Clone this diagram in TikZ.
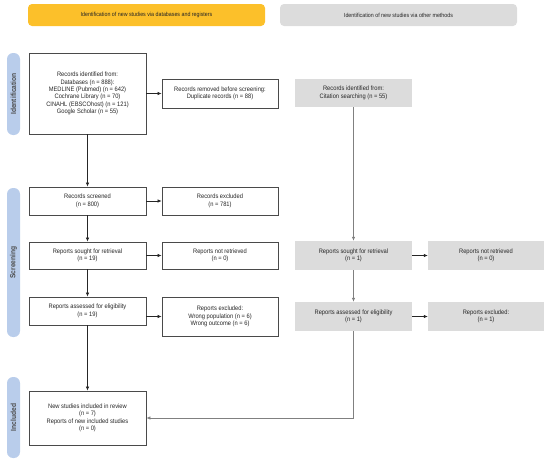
\documentclass[tikz,border=0pt]{standalone}
\usepackage{fontspec}
\setmainfont{Liberation Sans}[FakeStretch=0.9]
\usetikzlibrary{arrows.meta}
\definecolor{hdrY}{HTML}{FCC02A}
\definecolor{hdrG}{HTML}{DCDCDC}
\definecolor{pill}{HTML}{B9CDEB}
\definecolor{boxG}{HTML}{DCDCDC}
\definecolor{edge}{HTML}{4A4A4A}
\definecolor{txt}{HTML}{262626}
\tikzset{
  lbox/.style={draw=edge, line width=0.75pt, fill=white, align=center, inner sep=1pt,
    font=\fontsize{6.4}{7.4}\selectfont, text=txt},
  gbox/.style={fill=boxG, draw=none, align=center, inner sep=1pt,
    font=\fontsize{6.4}{7.4}\selectfont, text=txt},
  hdr/.style={rounded corners=4pt, draw=none, align=center,
    font=\fontsize{5.9}{7}\selectfont, text=txt},
  pillbox/.style={fill=pill, draw=none, rounded corners=6pt, minimum width=13pt},
  pilltext/.style={rotate=90, font=\bfseries\fontsize{7.4}{8}\selectfont, text=black!70},
  arr/.style={-{Latex[length=4pt,width=3.5pt]}, line width=0.6pt, draw=black!85},
  garr/.style={-{Latex[length=4pt,width=3.5pt]}, line width=0.7pt, draw=black!50},
}
\begin{document}
\begin{tikzpicture}[x=1pt,y=-1pt]
\useasboundingbox (0,0) rectangle (550,463);
% headers
\node[hdr, fill=hdrY, minimum width=237pt, minimum height=22pt] (h1) at (146.5,15) {Identification of new studies via databases and registers};
\node[hdr, fill=hdrG, minimum width=237pt, minimum height=22pt] (h2) at (398.5,15) {Identification of new studies via other methods};
% side pills
\node[pillbox, minimum height=82pt] (p1) at (13.5,94) {};
\node[pilltext] (p1t) at (p1) {Identification};
\node[pillbox, minimum height=149pt] (p2) at (13.5,262.5) {};
\node[pilltext] (p2t) at (p2) {Screening};
\node[pillbox, minimum height=81pt] (p3) at (13.5,417.5) {};
\node[pilltext] (p3t) at (p3) {Included};
% left column
\node[lbox, minimum width=117pt, minimum height=81pt] (id) at (87.5,93.5)
  {Records identified from:\\Databases (n = 888):\\MEDLINE (Pubmed) (n = 642)\\Cochrane Library (n = 70)\\CINAHL (EBSCOhost) (n = 121)\\Google Scholar (n = 55)};
\node[lbox, minimum width=116pt, minimum height=29pt] (rem) at (220,93.5)
  {Records removed before screening:\\Duplicate records (n = 88)};
\node[lbox, minimum width=117pt, minimum height=28pt] (scr) at (87.5,201)
  {Records screened\\(n = 800)};
\node[lbox, minimum width=116pt, minimum height=28pt] (exc) at (220,201)
  {Records excluded\\(n = 781)};
\node[lbox, minimum width=117pt, minimum height=27pt] (sou) at (87.5,255.5)
  {Reports sought for retrieval\\(n = 19)};
\node[lbox, minimum width=116pt, minimum height=27pt] (nre) at (220,255.5)
  {Reports not retrieved\\(n = 0)};
\node[lbox, minimum width=117pt, minimum height=28pt] (ass) at (87.5,311)
  {Reports assessed for eligibility\\(n = 19)};
\node[lbox, minimum width=116pt, minimum height=39pt] (rex) at (220,316.5)
  {Reports excluded:\\Wrong population (n = 6)\\Wrong outcome (n = 6)};
\node[lbox, minimum width=117pt, minimum height=54pt] (inc) at (87.5,418)
  {New studies included in review\\(n = 7)\\Reports of new included studies\\(n = 0)};
% right column
\node[gbox, minimum width=117pt, minimum height=28pt] (cit) at (353.5,93)
  {Records identified from:\\Citation searching (n = 55)};
\node[gbox, minimum width=117pt, minimum height=29pt] (rsou) at (353.5,255.5)
  {Reports sought for retrieval\\(n = 1)};
\node[gbox, minimum width=116pt, minimum height=29pt] (rnre) at (486,255.5)
  {Reports not retrieved\\(n = 0)};
\node[gbox, minimum width=117pt, minimum height=29pt] (rass) at (353.5,316.5)
  {Reports assessed for eligibility\\(n = 1)};
\node[gbox, minimum width=116pt, minimum height=29pt] (rrex) at (486,316.5)
  {Reports excluded:\\(n = 1)};
% connectors left
\draw[arr] (id) -- (rem);
\draw[arr] (id) -- (scr);
\draw[arr] (scr) -- (exc);
\draw[arr] (scr) -- (sou);
\draw[arr] (sou) -- (nre);
\draw[arr] (sou) -- (ass);
\draw[arr] (ass.east |- rex.west) -- (rex.west);
\draw[arr] (ass) -- (inc);
% connectors right
\draw[garr] (cit) -- (rsou);
\draw[arr] (rsou) -- (rnre);
\draw[garr] (rsou) -- (rass);
\draw[arr] (rass) -- (rrex);
\draw[garr] (rass.south) |- (inc.east);
\end{tikzpicture}
\end{document}
